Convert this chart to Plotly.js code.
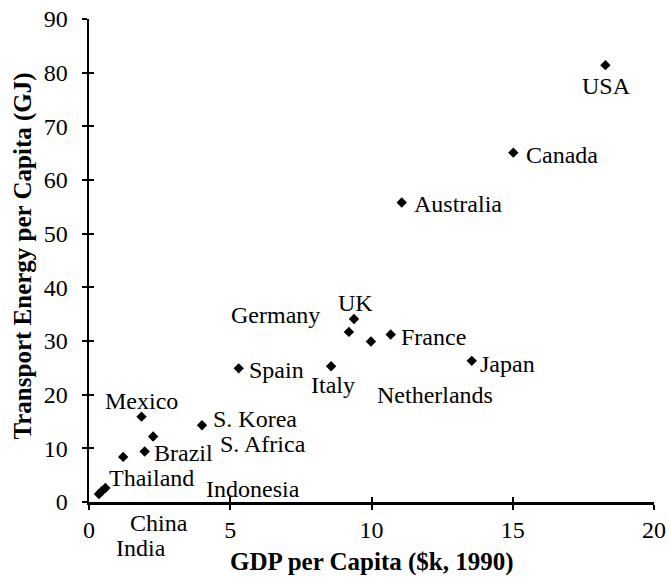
<!DOCTYPE html>
<html>
<head>
<meta charset="utf-8">
<script src="https://cdn.plot.ly/plotly-3.0.1.min.js"></script>
<style>html,body{margin:0;padding:0;background:#fff;}#chart{width:669px;height:579px;}</style>
</head>
<body>
<div id="chart"></div>
<script>
// Data
const countries = ["USA","Canada","Australia","UK","Germany","France","Netherlands","Japan","Italy","Spain","Mexico","S. Korea","S. Africa","Brazil","Thailand","Indonesia","China","India"];
const gdpPerCapita = [18.28, 15.02, 11.07, 9.38, 9.2, 10.68, 9.98, 13.55, 8.57, 5.3, 1.86, 4.0, 2.27, 1.97, 1.21, 0.58, 0.45, 0.35];
const transportEnergy = [81.4, 65.1, 55.8, 34.1, 31.7, 31.2, 29.9, 26.3, 25.3, 24.9, 15.9, 14.3, 12.2, 9.4, 8.4, 2.6, 2.0, 1.5];
const xTicks = [0, 5, 10, 15, 20];
const yTicks = [0, 10, 20, 30, 40, 50, 60, 70, 80, 90];

// Label placement (pixel offsets from each marker: right, down)
const labelOffsets = [[1,21],[49,2],[56,1],[2,-16],[-73,-17],[43,2],[64,53],[36,3],[2,19],[38,2],[0,-16],[53,-6],[110,7],[39,1],[28,21],[148,1],[57,32],[42,54]];

const FONT = "Liberation Serif, Times New Roman, serif";

const annotations = countries.map((c, i) => ({
  x: gdpPerCapita[i], y: transportEnergy[i], xref: 'x', yref: 'y',
  text: c, showarrow: false, xanchor: 'center', yanchor: 'middle',
  xshift: labelOffsets[i][0], yshift: -labelOffsets[i][1],
  font: {family: FONT, size: 24, color: '#000'}
}));
annotations.push({
  xref: 'paper', yref: 'paper', x: 0.5, y: -0.125, xanchor: 'center', yanchor: 'middle',
  text: '<b>GDP per Capita ($k, 1990)</b>', showarrow: false,
  font: {family: FONT, size: 25, color: '#000'}
});
annotations.push({
  xref: 'paper', yref: 'paper', x: -0.117, y: 0.51, xanchor: 'center', yanchor: 'middle',
  text: '<b>Transport Energy per Capita (GJ)</b>', showarrow: false, textangle: -90,
  font: {family: FONT, size: 25, color: '#000'}
});

const traces = [
  {x: gdpPerCapita, y: transportEnergy, type: 'scatter', mode: 'markers',
   marker: {symbol: 'diamond', size: 8, color: '#000'}, hoverinfo: 'text', text: countries},
  {x: [], y: [], type: 'scatter', mode: 'markers', xaxis: 'x2', yaxis: 'y2', showlegend: false}
];

const axisCommon = {
  showgrid: false, zeroline: false, showline: true, linecolor: '#000', linewidth: 2.5,
  ticks: 'outside', ticklen: 5, tickwidth: 2, tickcolor: '#000',
  tickfont: {family: FONT, size: 24, color: '#000'}
};

const layout = {
  width: 669, height: 579,
  margin: {l: 88.5, r: 14.7, t: 19, b: 77},
  paper_bgcolor: '#fff', plot_bgcolor: '#fff',
  showlegend: false,
  xaxis: Object.assign({}, axisCommon, {range: [0, 20], tickvals: xTicks, ticktext: xTicks.map(String), ticklabelstandoff: 0}),
  yaxis: Object.assign({}, axisCommon, {range: [0, 90], tickvals: yTicks, ticktext: yTicks.map(String), ticklabelstandoff: 9}),
  xaxis2: {overlaying: 'x', anchor: 'y2', range: [0, 20], tickvals: xTicks, showticklabels: false, ticks: 'inside', ticklen: 5, tickwidth: 2, tickcolor: '#000', showgrid: false, zeroline: false, showline: false},
  yaxis2: {overlaying: 'y', anchor: 'x2', range: [0, 90], tickvals: yTicks, showticklabels: false, ticks: 'inside', ticklen: 5, tickwidth: 2, tickcolor: '#000', showgrid: false, zeroline: false, showline: false},
  annotations: annotations
};

Plotly.newPlot('chart', traces, layout, {displayModeBar: false, staticPlot: true});
</script>
</body>
</html>
